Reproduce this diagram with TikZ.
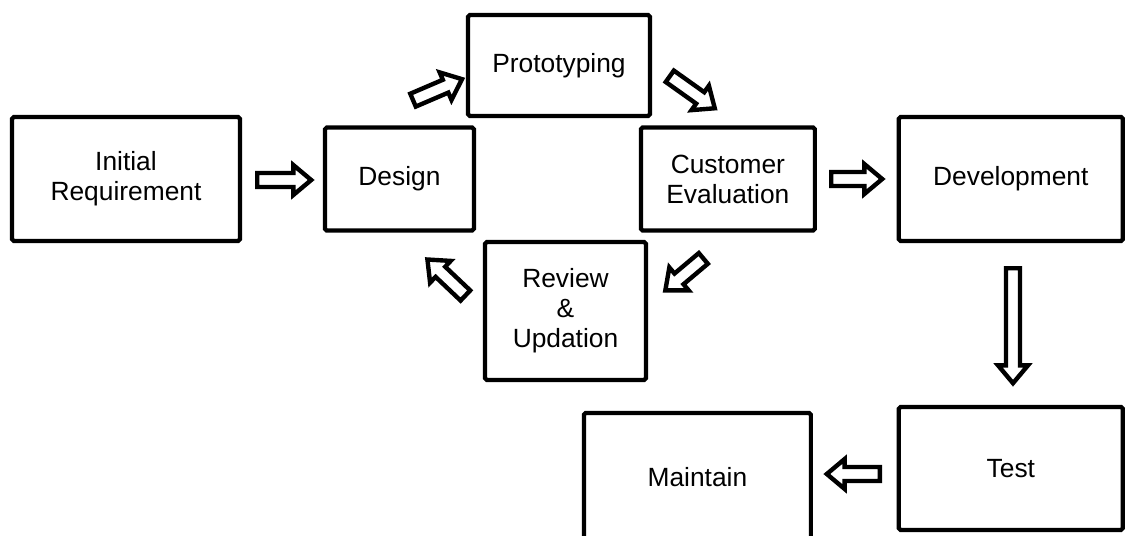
\documentclass[tikz,border=0pt]{standalone}
\usepackage{fontspec}
\setmainfont{Liberation Sans}
\usetikzlibrary{calc, positioning, shapes.arrows}
\tikzset{
	x=0.02cm, y=-0.02cm,
	stage/.style={
		draw,
		line width=2.4pt,
		rounded corners=1pt,
		align=center,
		inner sep=0pt,
		outer sep=0pt,
		font=\fontsize{15pt}{17pt}\selectfont
	},
	hollow/.style={
		single arrow,
		draw,
		fill=white,
		line width=2.5pt,
		inner sep=0pt,
		inner ysep=0.096cm,
		single arrow head extend=0.16cm,
		single arrow tip angle=80
	},
	blockarr/.style={
		to path={let \p1=(\tikztostart), \p2=(\tikztotarget),
			\n1={atan2(\y2-\y1,\x2-\x1)}, \n2={veclen(\x2-\x1,\y2-\y1)} in
			node[hollow, rotate=\n1, minimum height=\n2, anchor=tail] at (\tikztostart) {}}
	}
}

\begin{document}
\begin{tikzpicture}
	\useasboundingbox (0,0) rectangle (1126,535);
	\clip (0,0) rectangle (1126,535);
	% boxes
	\node[stage, minimum width=4.56cm, minimum height=2.48cm] (req) at (126,179) {Initial\\Requirement};
	\node[stage, minimum width=2.98cm, minimum height=2.06cm, right=1.70cm of req] (design) {Design};
	\node[stage, minimum width=3.48cm, minimum height=2.06cm, right=3.34cm of design] (eval) {Customer\\Evaluation};
	\node[stage, minimum width=4.48cm, minimum height=2.48cm, right=1.68cm of eval] (dev) {Development};
	\node[stage, minimum width=4.48cm, minimum height=2.46cm, below=3.32cm of dev] (test) {Test};
	\node[stage, minimum width=4.54cm, minimum height=2.56cm, left=1.76cm of test, yshift=-0.17cm] (maint) {Maintain};
	\node[stage, minimum width=3.64cm, minimum height=2.02cm] (proto) at (559,65.5) {Prototyping};
	\node[stage, minimum width=3.22cm, minimum height=2.76cm] (review) at (565.5,311) {Review\\\&\\Updation};
	% arrow ends
	\coordinate (t1) at (255,180);  \coordinate (h1) at (309,180);
	\coordinate (t2) at (411,101);  \coordinate (h2) at (460,80);
	\coordinate (t3) at (668,75);   \coordinate (h3) at (713,107);
	\coordinate (t4) at (829,179);  \coordinate (h4) at (880,179);
	\coordinate (t5) at (1013,266); \coordinate (h5) at (1013,381);
	\coordinate (t6) at (882,474);  \coordinate (h6) at (829,474);
	\coordinate (t7) at (705,257);  \coordinate (h7) at (667,289);
	\coordinate (t8) at (467,297);  \coordinate (h8) at (429,261);
	\path (t1) to[blockarr] (h1)
		(t2) to[blockarr] (h2)
		(t3) to[blockarr] (h3)
		(t4) to[blockarr] (h4)
		(t5) to[blockarr] (h5)
		(t6) to[blockarr] (h6)
		(t7) to[blockarr] (h7)
		(t8) to[blockarr] (h8);
\end{tikzpicture}
\end{document}
